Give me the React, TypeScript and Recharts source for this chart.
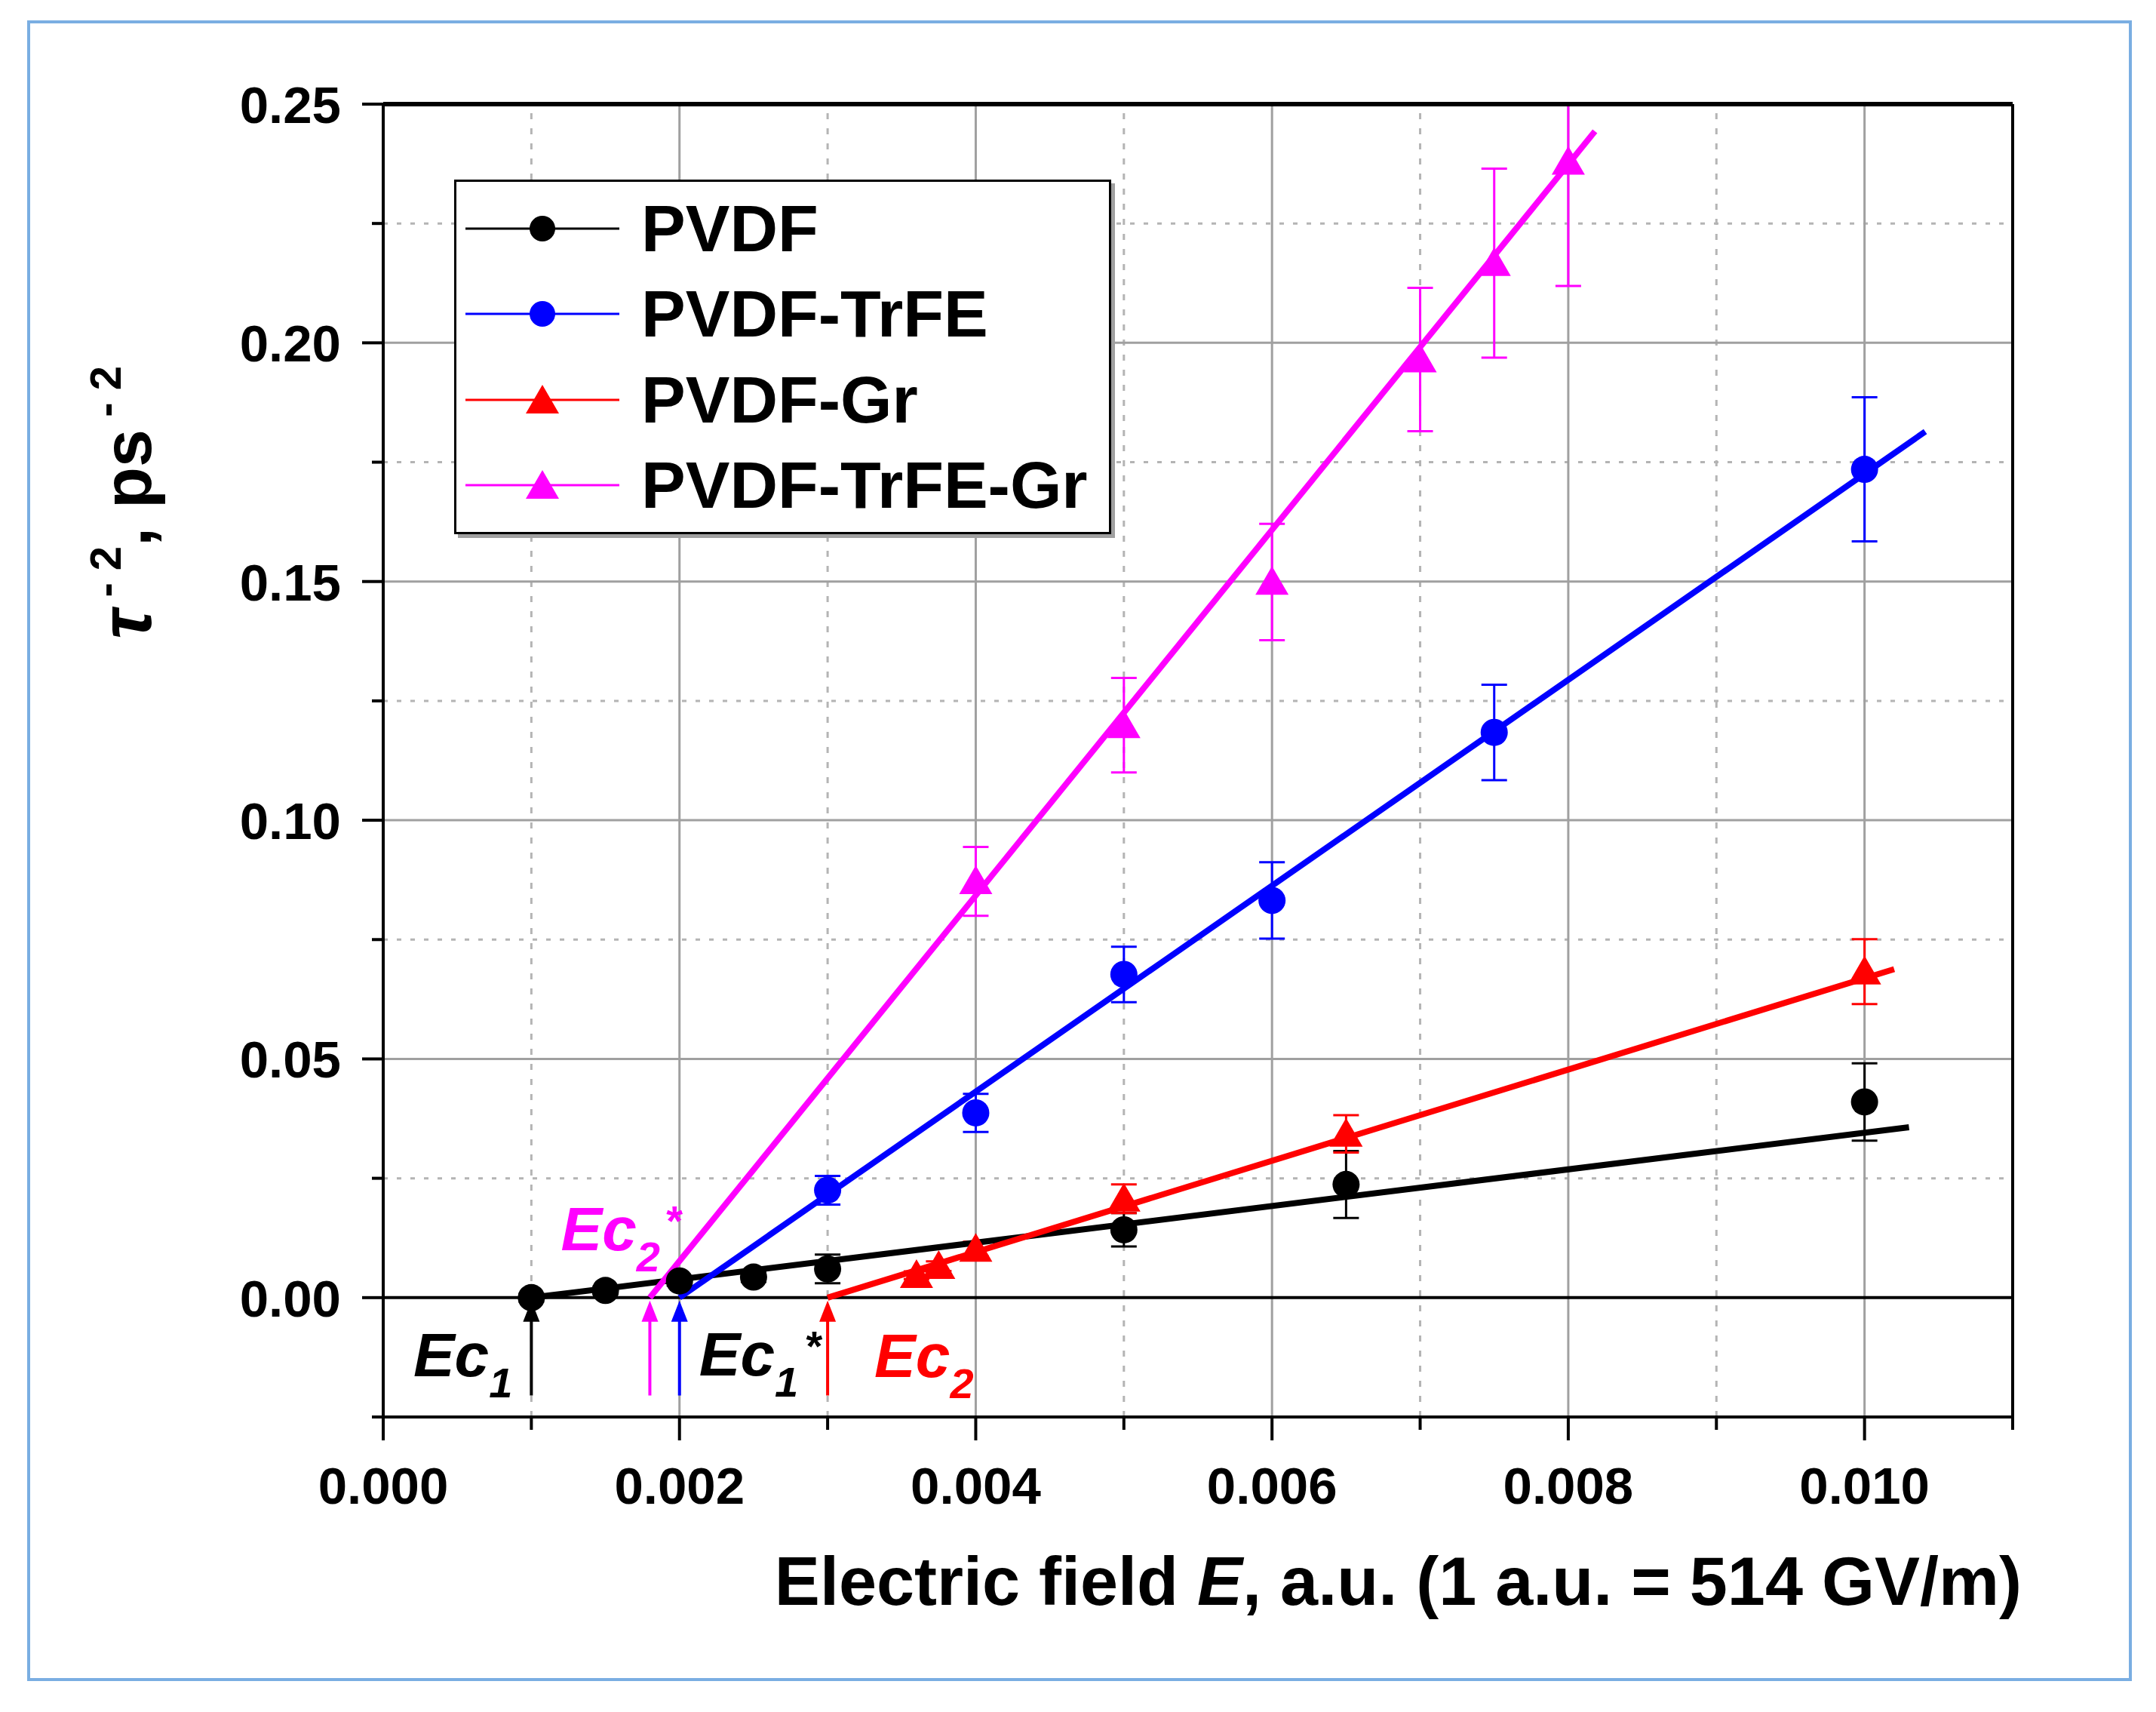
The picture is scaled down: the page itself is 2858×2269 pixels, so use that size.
import React from 'react';
import { ComposedChart, Scatter, XAxis, YAxis, ReferenceLine, ErrorBar, Legend } from 'recharts';

const FONT = '"Liberation Sans", Arial, Helvetica, sans-serif';

// ---------- data ----------
const PVDF_X = [0.001, 0.0015, 0.002, 0.0025, 0.003, 0.005, 0.0065, 0.01];
const PVDF_Y = [0.0, 0.0015, 0.0035, 0.0043, 0.006, 0.0142, 0.0237, 0.041];
const PVDF_ERR = [0.0008, 0.0008, 0.001, 0.001, 0.003, 0.0035, 0.007, 0.0081];

const TRFE_X = [0.003, 0.004, 0.005, 0.006, 0.0075, 0.01];
const TRFE_Y = [0.0225, 0.0387, 0.0677, 0.0832, 0.1184, 0.1735];
const TRFE_ERR = [0.003, 0.004, 0.0058, 0.008, 0.01, 0.0151];

const GR_X = [0.0036, 0.00375, 0.004, 0.005, 0.0065, 0.01];
const GR_Y = [0.0047, 0.0066, 0.0102, 0.0207, 0.0343, 0.0683];
const GR_ERR = [0.0008, 0.001, 0.0015, 0.003, 0.0039, 0.0068];

const TRFEGR_X = [0.004, 0.005, 0.006, 0.007, 0.0075, 0.008];
const TRFEGR_Y = [0.0872, 0.1199, 0.1499, 0.1965, 0.2167, 0.2379];
const TRFEGR_ERR_LOW = [0.0072, 0.0099, 0.0122, 0.015, 0.0198, 0.026];
// last upper bar is cut by the top of the frame
const TRFEGR_ERR_HIGH = [0.0072, 0.0099, 0.0122, 0.015, 0.0198, 0.0121];

// linear fits (start, end)
const PVDF_FIT_X = [0.001, 0.0103];
const PVDF_FIT_Y = [0, 0.0357];
const TRFE_FIT_X = [0.002, 0.01041];
const TRFE_FIT_Y = [0, 0.1814];
const GR_FIT_X = [0.003, 0.0102];
const GR_FIT_Y = [0, 0.0688];
const TRFEGR_FIT_X = [0.0018, 0.00818];
const TRFEGR_FIT_Y = [0, 0.2443];

// critical field arrows
const ARROW_X = [0.001, 0.0018, 0.002, 0.003];
const ARROW_FROM = -0.0205;
const ARROW_TO = 0;
const ARROW_TEXT = ['Ec', 'Ec', 'Ec', 'Ec'];
const ARROW_SUB = ['1', '2', '1', '2'];
const ARROW_STAR = [false, true, true, false];

const SERIES_NAMES = ['PVDF', 'PVDF-TrFE', 'PVDF-Gr', 'PVDF-TrFE-Gr'];

// axes
const X_DOMAIN = [0, 0.011];
const Y_DOMAIN = [-0.025, 0.25];
const X_TICKS = [0, 0.001, 0.002, 0.003, 0.004, 0.005, 0.006, 0.007, 0.008, 0.009, 0.01, 0.011];
const Y_TICKS = [-0.025, 0, 0.025, 0.05, 0.075, 0.1, 0.125, 0.15, 0.175, 0.2, 0.225, 0.25];
const X_MAJOR_GRID = [0.002, 0.004, 0.006, 0.008, 0.01];
const X_MINOR_GRID = [0.001, 0.003, 0.005, 0.007, 0.009];
const Y_MAJOR_GRID = [0.05, 0.1, 0.15, 0.2];
const Y_MINOR_GRID = [0.025, 0.075, 0.125, 0.175, 0.225];

// ---------- build ----------
const pts = (xs: number[], ys: number[], es?: number[], eh?: number[]) =>
  xs.map((x, i) => ({
    x,
    y: ys[i],
    err: es ? (eh ? [es[i], eh[i]] : es[i]) : 0,
  }));

const pvdf = pts(PVDF_X, PVDF_Y, PVDF_ERR);
const trfe = pts(TRFE_X, TRFE_Y, TRFE_ERR);
const gr = pts(GR_X, GR_Y, GR_ERR);
const trfegr = pts(TRFEGR_X, TRFEGR_Y, TRFEGR_ERR_LOW, TRFEGR_ERR_HIGH);
const pvdfFit = pts(PVDF_FIT_X, PVDF_FIT_Y);
const trfeFit = pts(TRFE_FIT_X, TRFE_FIT_Y);
const grFit = pts(GR_FIT_X, GR_FIT_Y);
const trfegrFit = pts(TRFEGR_FIT_X, TRFEGR_FIT_Y);

// ---------- styles ----------
const BLACK = '#000000';
const BLUE = '#0000ff';
const RED = '#ff0000';
const MAGENTA = '#ff00ff';
const FIT_WIDTH = 8;
const SERIES_COLORS = [BLACK, BLUE, RED, MAGENTA];
const SERIES_MARKERS = ['circle', 'circle', 'triangle', 'triangle'];
const ARROW_COLORS = [BLACK, MAGENTA, BLUE, RED];
const ARROW_LABEL_COLORS = [BLACK, MAGENTA, BLACK, RED];
const ARROW_LABEL_POS = [
  { dx: -25, dy: 104, anchor: 'end', starDx: 0 },
  { dx: -118, dy: -63, anchor: 'start', starDx: 6 },
  { dx: 26, dy: 103, anchor: 'start', starDx: 8 },
  { dx: 62, dy: 105, anchor: 'start', starDx: 0 },
];

const W = 2858;
const H = 2269;

const makeCircle = (color: string) => (p: any) =>
  p.cx == null ? <g /> : <circle cx={p.cx} cy={p.cy} r={18} fill={color} />;
const makeTri = (color: string) => (p: any) =>
  p.cx == null ? (
    <g />
  ) : (
    <polygon
      points={`${p.cx},${p.cy - 21} ${p.cx - 22},${p.cy + 17} ${p.cx + 22},${p.cy + 17}`}
      fill={color}
    />
  );
const Empty = () => <g />;

const XTick = (p: any) => {
  const v = p.payload.value;
  const k = Math.round(v * 1000);
  const major = k % 2 === 0 && k < 11;
  return (
    <g>
      <line x1={p.x} y1={p.y} x2={p.x} y2={p.y + (major ? 31 : 17)} stroke="#000" strokeWidth={4} />
      {major && (
        <text
          x={p.x}
          y={p.y + 115}
          textAnchor="middle"
          fontFamily={FONT}
          fontWeight="bold"
          fontSize={69}
          fill="#000"
        >
          {v.toFixed(3)}
        </text>
      )}
    </g>
  );
};

const YTick = (p: any) => {
  const v = p.payload.value;
  const k = Math.round(v * 1000);
  const major = k % 50 === 0;
  return (
    <g>
      <line x1={p.x} y1={p.y} x2={p.x - (major ? 28 : 15)} y2={p.y} stroke="#000" strokeWidth={4} />
      {major && (
        <text
          x={p.x - 56}
          y={p.y}
          dy="0.36em"
          textAnchor="end"
          fontFamily={FONT}
          fontWeight="bold"
          fontSize={69}
          fill="#000"
        >
          {v.toFixed(2)}
        </text>
      )}
    </g>
  );
};

const YLabel = (props: any) => {
  const vb = props.viewBox || { x: 208, y: 138 };
  return (
    <text
      transform={`translate(${vb.x - 8}, ${vb.y + 528}) rotate(-90)`}
      textAnchor="middle"
      fontFamily={FONT}
      fontWeight="bold"
      fontSize={90}
      fill="#000"
    >
      <tspan fontStyle="italic" fontSize={96}>{'\u03C4'}</tspan>
      <tspan fontSize={58} dy={-40}>{' - 2'}</tspan>
      <tspan dy={40}>{', ps'}</tspan>
      <tspan fontSize={58} dy={-40}>{' - 2'}</tspan>
    </text>
  );
};

const XLabel = (props: any) => {
  const vb = props.viewBox || { x: 508, y: 1878, width: 2160 };
  return (
    <text
      x={vb.x + vb.width + 12}
      y={vb.y + 249}
      textAnchor="end"
      fontFamily={FONT}
      fontWeight="bold"
      fontSize={90}
      fill="#000"
    >
      {'Electric field '}
      <tspan fontStyle="italic">E</tspan>
      {', a.u. (1 a.u. = 514 GV/m)'}
    </text>
  );
};

const makeArrow = (i: number) => (p: any) => {
  const { x1, y1, x2, y2 } = p;
  const col = ARROW_COLORS[i];
  const pos = ARROW_LABEL_POS[i];
  return (
    <g>
      <line x1={x1} y1={y1} x2={x2} y2={y2 + 20} stroke={col} strokeWidth={4} />
      <polygon points={`${x2},${y2 + 4} ${x2 - 11},${y2 + 32} ${x2 + 11},${y2 + 32}`} fill={col} />
      <text
        x={x2 + pos.dx}
        y={y2 + pos.dy}
        textAnchor={pos.anchor as any}
        fill={ARROW_LABEL_COLORS[i]}
        fontFamily={FONT}
        fontWeight="bold"
        fontStyle="italic"
        fontSize={82}
      >
        {ARROW_TEXT[i]}
        <tspan fontSize={56} dy={28}>{ARROW_SUB[i]}</tspan>
        {ARROW_STAR[i] ? (
          <tspan fontSize={56} dx={pos.starDx} dy={-48}>*</tspan>
        ) : null}
      </text>
    </g>
  );
};

const LegendBox = () => (
  <div
    style={{
      width: 871,
      height: 470,
      boxSizing: 'border-box',
      border: '3px solid #000',
      background: '#fff',
      boxShadow: '5px 5px 0 #a0a0a0',
      paddingTop: 5,
    }}
  >
    {SERIES_NAMES.map((name, i) => {
      const c = SERIES_COLORS[i];
      return (
        <div key={name} style={{ display: 'flex', alignItems: 'center', height: 113.5 }}>
          <svg width={245} height={60} style={{ flex: 'none' }}>
            <line x1={12} x2={216} y1={30} y2={30} stroke={c} strokeWidth={3} />
            {SERIES_MARKERS[i] === 'circle' ? (
              <circle cx={114} cy={30} r={17} fill={c} />
            ) : (
              <polygon points={`114,10 92,48 136,48`} fill={c} />
            )}
          </svg>
          <span
            style={{
              fontFamily: FONT,
              fontWeight: 'bold',
              fontSize: 88,
              lineHeight: '88px',
              color: '#000',
              whiteSpace: 'nowrap',
            }}
          >
            {name}
          </span>
        </div>
      );
    })}
  </div>
);

export default function App() {
  return (
    <div style={{ position: 'absolute', left: 0, top: 0, width: W, height: H, background: '#fff' }}>
      <div
        style={{
          position: 'absolute',
          left: 36,
          top: 27,
          width: 2790,
          height: 2201,
          boxSizing: 'border-box',
          border: '4px solid #7aaee2',
        }}
      />
      <div style={{ position: 'absolute', left: 0, top: 0 }}>
        <ComposedChart
          width={W}
          height={H}
          margin={{ top: 138, right: 190, bottom: 91, left: 208 }}
        >
          <XAxis
            type="number"
            dataKey="x"
            domain={X_DOMAIN}
            ticks={X_TICKS}
            interval={0}
            allowDataOverflow
            height={300}
            tickSize={0}
            tickMargin={0}
            tickLine={false}
            axisLine={{ stroke: '#000', strokeWidth: 4 }}
            tick={XTick}
            label={{ content: XLabel }}
          />
          <YAxis
            type="number"
            dataKey="y"
            domain={Y_DOMAIN}
            ticks={Y_TICKS}
            interval={0}
            allowDataOverflow
            width={300}
            tickSize={0}
            tickMargin={0}
            tickLine={false}
            axisLine={{ stroke: '#000', strokeWidth: 4 }}
            tick={YTick}
            label={{ content: YLabel }}
          />

          {X_MINOR_GRID.map((v) => (
            <ReferenceLine key={'xm' + v} x={v} stroke="#b4b4b4" strokeWidth={3} strokeDasharray="8 12" />
          ))}
          {Y_MINOR_GRID.map((v) => (
            <ReferenceLine key={'ym' + v} y={v} stroke="#b4b4b4" strokeWidth={3} strokeDasharray="6 12" />
          ))}
          {X_MAJOR_GRID.map((v) => (
            <ReferenceLine key={'xM' + v} x={v} stroke="#a0a0a0" strokeWidth={3} />
          ))}
          {Y_MAJOR_GRID.map((v) => (
            <ReferenceLine key={'yM' + v} y={v} stroke="#a0a0a0" strokeWidth={3} />
          ))}
          <ReferenceLine y={0} stroke="#000" strokeWidth={4} />
          <ReferenceLine x={X_DOMAIN[1]} stroke="#000" strokeWidth={4} />

          {ARROW_X.map((ax, i) => (
            <ReferenceLine
              key={'ar' + i}
              segment={[
                { x: ax, y: ARROW_FROM },
                { x: ax, y: ARROW_TO },
              ]}
              ifOverflow="visible"
              stroke={ARROW_COLORS[i]}
              strokeWidth={4}
              shape={makeArrow(i)}
            />
          ))}

          <Scatter data={pvdfFit} line={{ stroke: BLACK, strokeWidth: FIT_WIDTH }} shape={Empty} isAnimationActive={false} legendType="none" />
          <Scatter data={grFit} line={{ stroke: RED, strokeWidth: FIT_WIDTH }} shape={Empty} isAnimationActive={false} legendType="none" />
          <Scatter data={trfeFit} line={{ stroke: BLUE, strokeWidth: FIT_WIDTH }} shape={Empty} isAnimationActive={false} legendType="none" />
          <Scatter data={trfegrFit} line={{ stroke: MAGENTA, strokeWidth: FIT_WIDTH }} shape={Empty} isAnimationActive={false} legendType="none" />

          <Scatter name="PVDF" data={pvdf} shape={makeCircle(BLACK)} isAnimationActive={false}>
            <ErrorBar dataKey="err" direction="y" width={17} stroke={BLACK} strokeWidth={3} />
          </Scatter>
          <Scatter name="PVDF-TrFE" data={trfe} shape={makeCircle(BLUE)} isAnimationActive={false}>
            <ErrorBar dataKey="err" direction="y" width={17} stroke={BLUE} strokeWidth={3} />
          </Scatter>
          <Scatter name="PVDF-Gr" data={gr} shape={makeTri(RED)} isAnimationActive={false}>
            <ErrorBar dataKey="err" direction="y" width={17} stroke={RED} strokeWidth={3} />
          </Scatter>
          <Scatter name="PVDF-TrFE-Gr" data={trfegr} shape={makeTri(MAGENTA)} isAnimationActive={false}>
            <ErrorBar dataKey="err" direction="y" width={17} stroke={MAGENTA} strokeWidth={3} />
          </Scatter>

          <ReferenceLine y={Y_DOMAIN[1]} stroke="#000" strokeWidth={6} />

          <Legend
            layout="vertical"
            align="center"
            verticalAlign="middle"
            content={LegendBox}
            wrapperStyle={{ position: 'absolute', left: 602, top: 238, width: 871, height: 470, right: 'auto', bottom: 'auto' }}
          />
        </ComposedChart>
      </div>
    </div>
  );
}
